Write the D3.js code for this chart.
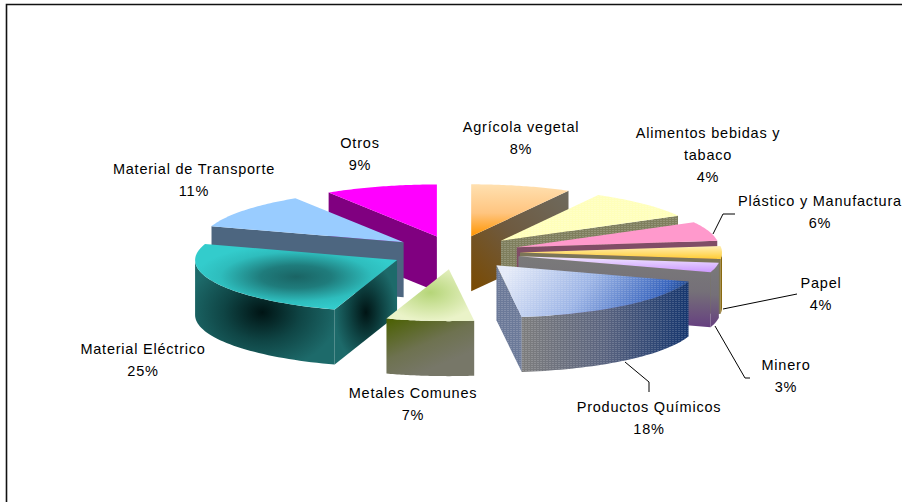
<!DOCTYPE html>
<html>
<head>
<meta charset="utf-8">
<script src="https://cdn.jsdelivr.net/npm/d3@7"></script>
<style>
  html, body { margin: 0; padding: 0; background: white; overflow: hidden; }
  text { font-family: "Liberation Sans", Arial, sans-serif; font-size: 14.5px; letter-spacing: 0.78px; fill: #000; }
</style>
</head>
<body>
<div id="outer"></div>
<script>
////////// DATA //////////
const categories = ['Agrícola vegetal', 'Alimentos bebidas y tabaco', 'Plástico y Manufactura', 'Papel', 'Minero',
	'Productos Químicos', 'Metales Comunes', 'Material Eléctrico', 'Material de Transporte', 'Otros'];
const percentLabels = ['8%', '4%', '6%', '4%', '3%', '18%', '7%', '25%', '11%', '9%'];
// share of the circle each slice really takes in the picture (the yellow one is drawn wider than its label says)
const shares = [8, 9, 6, 4, 3, 18, 7, 25, 11, 9];

////////// SIZING //////////
const width = 902;
const height = 502;
const center = {x: 455, y: 252.5};
const depth = 55;

// unit circle -> pixels on the tilted plane
const radiusX = d3.scaleLinear().domain([0, 1]).range([0, 202]);
const radiusY = d3.scaleLinear().domain([0, 1]).range([0, 52]);
const explodeX = d3.scaleLinear().domain([0, 1]).range([0, 65]);
const explodeY = d3.scaleLinear().domain([0, 1]).range([0, 16.7]);

////////// LABEL LAYOUT //////////
const labelSpots = [
	{x: 521, lines: [127, 149]},
	{x: 708, lines: [133, 155, 177], split: ['Alimentos bebidas y', 'tabaco']},
	{x: 820, lines: [201, 223]},
	{x: 821, lines: [283, 305]},
	{x: 786, lines: [365, 387]},
	{x: 649, lines: [407, 429]},
	{x: 413, lines: [393, 415]},
	{x: 143, lines: [349, 371]},
	{x: 194, lines: [169, 191]},
	{x: 360, lines: [143, 165]}
];
const leaders = [
	[[735, 214], [723, 214], [713, 234]],
	[[797, 294], [723, 309]],
	[[750, 378], [745, 378], [715, 326]],
	[[649, 392], [649, 382], [625, 362]]
];

////////// SVG //////////
const svg = d3.select('#outer').append('svg')
	.attr('width', width)
	.attr('height', height)
	.style('display', 'block');
const defs = svg.append('defs');

const linearGrad = (id, pts, stops) => {
	const g = defs.append('linearGradient').attr('id', id)
		.attr('x1', pts[0]).attr('y1', pts[1]).attr('x2', pts[2]).attr('y2', pts[3]);
	stops.forEach(s => g.append('stop').attr('offset', s[0]).attr('stop-color', s[1]));
};
const radialGrad = (id, c, stops) => {
	const g = defs.append('radialGradient').attr('id', id)
		.attr('cx', c[0]).attr('cy', c[1]).attr('r', c[2]);
	stops.forEach(s => g.append('stop').attr('offset', s[0]).attr('stop-color', s[1]));
};

linearGrad('agriTop', [0, 0, 0, 1], [[0, '#FFE0B0'], [0.55, '#FFC580'], [1, '#FF9500']]);
linearGrad('agriWall', [1, 0, 0, 1], [[0, '#6E6A5E'], [0.5, '#6E5A40'], [1, '#7A4A00']]);
linearGrad('papelTop', [0, 0, 0, 1], [[0, '#FFEFB5'], [1, '#FFCC33']]);
linearGrad('mineroTop', [0, 0, 0, 1], [[0, '#F0E8FF'], [1, '#CC99FF']]);
linearGrad('mineroWall', [0, 0, 0, 1], [[0, '#7A7A7A'], [0.5, '#757078'], [1, '#664080']]);
linearGrad('quimTop', [0, 0.4, 1, 0.6], [[0, '#E4EAF8'], [0.45, '#9DB5E6'], [0.85, '#3A66BE'], [1, '#163C78']]);
linearGrad('quimWall', [0, 0.5, 1, 0.5], [[0, '#7E7E7E'], [0.5, '#5A6480'], [1, '#16366E']]);
linearGrad('metalWall', [0, 0, 0.55, 0.85], [[0, '#4A6000'], [0.6, '#6E7250'], [1, '#777768']]);
radialGrad('metalTop', ['50%', '45%', '55%'], [[0, '#B5D578'], [1, '#EAF3C8']]);
radialGrad('elecTop', ['50%', '50%', '50%'], [[0, '#1A6464'], [0.35, '#1F7C7C'], [0.75, '#2EBDBD'], [1, '#33CCCC']]);
radialGrad('elecWall', ['48%', '50%', '55%'], [[0, '#001414'], [0.5, '#0F4545'], [1, '#1D6A6A']]);
radialGrad('elecSide', ['50%', '50%', '50%'], [[0, '#001414'], [0.55, '#0F4545'], [1, '#1D6A6A']]);

// fine dotted texture on the yellow and blue slices
const hatch = defs.append('pattern').attr('id', 'hatch')
	.attr('width', 3).attr('height', 2).attr('patternUnits', 'userSpaceOnUse');
hatch.append('rect').attr('width', 2).attr('height', 1).attr('fill', 'white').attr('fill-opacity', 0.16);

// top, radial cut wall, rim wall
const sliceStyles = [
	{top: 'url(#agriTop)', cut: 'url(#agriWall)', rim: '#6E5A40'},
	{top: '#FFFFBB', cut: '#7F7F5E', rim: '#7F7F5E', hatch: true},
	{top: '#FF99CC', cut: '#804D66', rim: '#804D66'},
	{top: 'url(#papelTop)', cut: '#7B7558', rim: '#8A6A10'},
	{top: 'url(#mineroTop)', cut: 'url(#mineroWall)', rim: 'url(#mineroWall)'},
	{top: 'url(#quimTop)', cut: '#6C7A99', rim: 'url(#quimWall)', hatch: true},
	{top: 'url(#metalTop)', cut: 'url(#metalWall)', rim: 'url(#metalWall)'},
	{top: 'url(#elecTop)', cut: 'url(#elecSide)', rim: 'url(#elecWall)'},
	{top: '#99CCFF', cut: '#4D6680', rim: '#4D6680'},
	{top: '#FF00FF', cut: '#800080', rim: '#800080'}
];

// FRAME //
svg.append('path')
	.attr('d', `M6.5,${height}V4.5H${width}`)
	.attr('fill', 'none')
	.attr('stroke', '#111')
	.attr('stroke-width', 1.6);

////////// SLICES //////////
const pieData = d3.pie().sort(null).value(d => d)(shares);
const toPath = d3.line();

const onPlane = (origin, angle) => [
	origin[0] + radiusX(Math.sin(angle)),
	origin[1] - radiusY(Math.cos(angle))
];
const rimPoints = (origin, a0, a1) => d3.range(0, 41).map(i => onPlane(origin, a0 + (a1 - a0) * i / 40));
const down = p => [p[0], p[1] + depth];

// back slices first, the front ones paint over them
const drawOrder = [9, 0, 8, 1, 2, 3, 4, 7, 5, 6];
const pieGroup = svg.append('g').attr('class', 'pieGroup');

const paintFace = (points, fill, textured) => {
	pieGroup.append('path').attr('d', toPath(points) + 'Z').attr('fill', fill);
	if (textured) pieGroup.append('path').attr('d', toPath(points) + 'Z').attr('fill', 'url(#hatch)');
};

drawOrder.forEach(i => {
	const d = pieData[i];
	const style = sliceStyles[i];
	const mid = (d.startAngle + d.endAngle) / 2;
	const apex = [center.x + explodeX(Math.sin(mid)), center.y - explodeY(Math.cos(mid))];

	// radial cut walls that face the viewer
	if (Math.sin(d.startAngle) < -0.01) {
		const edge = onPlane(apex, d.startAngle);
		paintFace([apex, edge, down(edge), down(apex)], style.cut, style.hatch);
	}
	if (Math.sin(d.endAngle) > 0.01) {
		const edge = onPlane(apex, d.endAngle);
		paintFace([apex, edge, down(edge), down(apex)], style.cut, style.hatch);
	}

	// outer rim, only the front half of the ellipse shows
	const a0 = Math.max(d.startAngle, Math.PI / 2);
	const a1 = Math.min(d.endAngle, Math.PI * 1.5);
	if (a1 > a0) {
		const rim = rimPoints(apex, a0, a1);
		paintFace(rim.concat(rim.map(down).reverse()), style.rim, style.hatch);
	}

	// top face
	paintFace([apex].concat(rimPoints(apex, d.startAngle, d.endAngle)), style.top, style.hatch);
});

////////// LEADERS //////////
svg.append('g').attr('class', 'leaders')
	.selectAll('path')
	.data(leaders)
	.join('path')
	.attr('d', d => toPath(d))
	.attr('fill', 'none')
	.attr('stroke', '#000')
	.attr('stroke-width', 1);

////////// LABELS //////////
const labelGroup = svg.append('g').attr('class', 'labels');
categories.forEach((name, i) => {
	const spot = labelSpots[i];
	const texts = (spot.split || [name]).concat(percentLabels[i]);
	texts.forEach((t, j) => {
		labelGroup.append('text')
			.attr('x', spot.x)
			.attr('y', spot.lines[j] + 5)
			.attr('text-anchor', 'middle')
			.text(t);
	});
});
</script>
</body>
</html>
